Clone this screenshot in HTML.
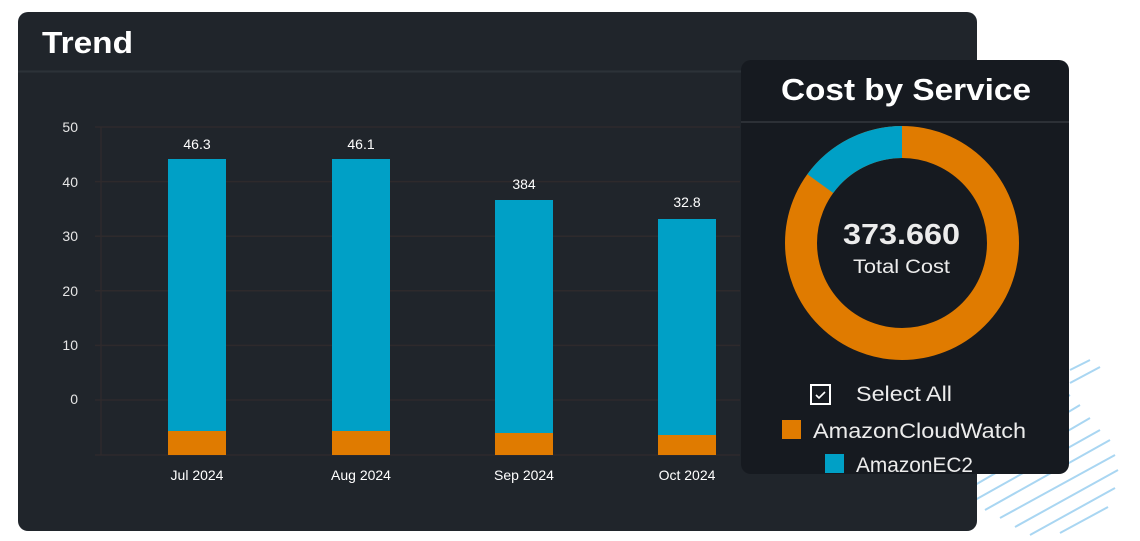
<!DOCTYPE html>
<html><head><meta charset="utf-8"><style>
html,body{margin:0;padding:0;background:#fff;width:1140px;height:541px;overflow:hidden;font-family:"Liberation Sans",sans-serif}
</style></head><body>
<svg width="1140" height="541" viewBox="0 0 1140 541" xmlns="http://www.w3.org/2000/svg" font-family="Liberation Sans, sans-serif">
<g stroke="#a9d6f2" stroke-width="2">
<line x1="985" y1="445" x2="1070" y2="395"/>
<line x1="980" y1="465" x2="1080" y2="405"/>
<line x1="975" y1="485" x2="1090" y2="418"/>
<line x1="975" y1="500" x2="1100" y2="430"/>
<line x1="985" y1="510" x2="1110" y2="440"/>
<line x1="1000" y1="518" x2="1115" y2="455"/>
<line x1="1015" y1="527" x2="1118" y2="470"/>
<line x1="1030" y1="535" x2="1115" y2="488"/>
<line x1="1060" y1="533" x2="1108" y2="507"/>
<line x1="1070" y1="370" x2="1090" y2="360"/>
<line x1="1070" y1="383" x2="1100" y2="367"/>
</g>
<rect x="18" y="12" width="959" height="519" rx="10" fill="#20252b"/>
<text x="42" y="53" font-size="31" font-weight="bold" fill="#ffffff" textLength="91" lengthAdjust="spacingAndGlyphs">Trend</text>
<line x1="18" y1="71.5" x2="977" y2="71.5" stroke="#2c3238" stroke-width="2"/>
<g stroke="#2e2a2c" stroke-width="1.5">
<line x1="95" y1="127" x2="740" y2="127"/>
<line x1="95" y1="181.6" x2="740" y2="181.6"/>
<line x1="95" y1="236.2" x2="740" y2="236.2"/>
<line x1="95" y1="290.8" x2="740" y2="290.8"/>
<line x1="95" y1="345.4" x2="740" y2="345.4"/>
<line x1="95" y1="400" x2="740" y2="400"/>
<line x1="95" y1="455" x2="740" y2="455"/>
<line x1="101" y1="127" x2="101" y2="455"/>
</g>
<g fill="#e6e6e6" font-size="14" text-anchor="end">
<text x="78" y="132">50</text><text x="78" y="187">40</text><text x="78" y="241">30</text>
<text x="78" y="296">20</text><text x="78" y="350">10</text><text x="78" y="404">0</text>
</g>
<g fill="#00a0c6">
<rect x="168" y="159" width="58" height="272"/>
<rect x="332" y="159" width="58" height="272"/>
<rect x="495" y="200" width="58" height="233"/>
<rect x="658" y="219" width="58" height="216"/>
</g>
<g fill="#e07b00">
<rect x="168" y="431" width="58" height="24"/>
<rect x="332" y="431" width="58" height="24"/>
<rect x="495" y="433" width="58" height="22"/>
<rect x="658" y="435" width="58" height="20"/>
</g>
<g fill="#ffffff" font-size="14" text-anchor="middle">
<text x="197" y="149">46.3</text><text x="361" y="149">46.1</text>
<text x="524" y="189">384</text><text x="687" y="207">32.8</text>
</g>
<g fill="#ffffff" font-size="14" text-anchor="middle">
<text x="197" y="480">Jul 2024</text><text x="361" y="480">Aug 2024</text>
<text x="524" y="480">Sep 2024</text><text x="687" y="480">Oct 2024</text>
</g>
<rect x="741" y="60" width="328" height="414" rx="10" fill="#161a20"/>
<text x="781" y="100" font-size="31" font-weight="bold" fill="#ffffff" textLength="250" lengthAdjust="spacingAndGlyphs">Cost by Service</text>
<line x1="741" y1="122" x2="1069" y2="122" stroke="#2c3036" stroke-width="2"/>
<circle cx="902" cy="243" r="101" fill="none" stroke="#e07b00" stroke-width="32"/>
<path d="M902 142 A101 101 0 0 0 820.3 183.6" fill="none" stroke="#00a0c6" stroke-width="32"/>
<text x="843" y="244" font-size="29" font-weight="bold" fill="#ececec" textLength="117" lengthAdjust="spacingAndGlyphs">373.660</text>
<text x="853" y="273" font-size="19" fill="#ececec" textLength="97" lengthAdjust="spacingAndGlyphs">Total Cost</text>
<rect x="811" y="385" width="19" height="19" fill="none" stroke="#ffffff" stroke-width="2"/>
<path d="M816 395 l3 3 l6 -6" fill="none" stroke="#fff" stroke-width="1.6"/>
<text x="856" y="401" font-size="21" fill="#ececec" textLength="96" lengthAdjust="spacingAndGlyphs">Select All</text>
<rect x="782" y="420" width="19" height="19" fill="#e07b00"/>
<text x="813" y="438" font-size="21" fill="#ececec" textLength="213" lengthAdjust="spacingAndGlyphs">AmazonCloudWatch</text>
<rect x="825" y="454" width="19" height="19" fill="#00a0c6"/>
<text x="856" y="472" font-size="21" fill="#ececec" textLength="117" lengthAdjust="spacingAndGlyphs">AmazonEC2</text>
</svg>
</body></html>
